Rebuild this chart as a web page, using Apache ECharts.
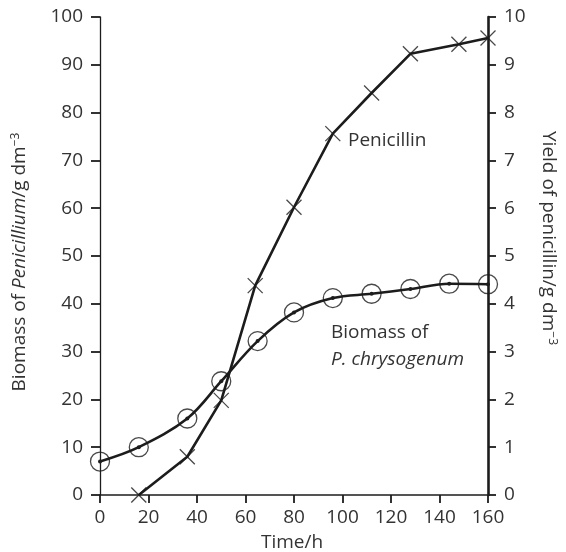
<!DOCTYPE html>
<html>
<head>
<meta charset="utf-8">
<script src="https://cdn.jsdelivr.net/npm/echarts@6/dist/echarts.min.js"></script>
<style>
  html, body { margin: 0; padding: 0; background: #fff; }
  #chart { width: 566px; height: 552px; }
</style>
</head>
<body>
<div id="chart"></div>
<script>
// biomass of P. chrysogenum (left axis, g dm-3)
const biomassTime = [0, 16, 36, 50, 65, 80, 96, 112, 128, 144, 160]
const biomassValue = [7, 10, 16, 23.8, 32.2, 38.2, 41.2, 42.1, 43.1, 44.2, 44.1]

// penicillin yield (right axis, g dm-3)
const penTime = [16, 36, 50, 64, 80, 96, 112, 128, 148, 160]
const penYield = [0, 0.8, 1.98, 4.38, 6.02, 7.56, 8.41, 9.23, 9.43, 9.56]

const timeTicks = [0, 20, 40, 60, 80, 100, 120, 140, 160]

const ink = '#1c1c1c'
const txt = '#333'
const font = 'Open Sans'

const chart = echarts.init(document.getElementById('chart'))

const biomassData = biomassTime.map((t, i) => [t, biomassValue[i]])
const penData = penTime.map((t, i) => [t, penYield[i]])

const sup = { fontSize: 12, fontFamily: font, color: txt, padding: [0, 0, 9, 0] }
const norm = { fontSize: 19, fontFamily: font, color: txt }

const option = {
  animation: false,
  grid: { left: 100, right: 78, top: 17, bottom: 57 },
  xAxis: {
    type: 'value',
    min: timeTicks[0],
    max: timeTicks[timeTicks.length - 1],
    interval: 20,
    splitLine: { show: false },
    axisLine: { onZero: false, lineStyle: { color: ink, width: 1.5 } },
    axisTick: { length: 8, lineStyle: { color: ink, width: 1.8 } },
    axisLabel: { margin: 13, fontSize: 19, fontFamily: font, color: txt }
  },
  yAxis: [
    {
      type: 'value',
      min: 0, max: 100, interval: 10,
      splitLine: { show: false },
      axisLine: { show: true, lineStyle: { color: ink, width: 1.3 } },
      axisTick: { show: true, length: 9, lineStyle: { color: ink, width: 1.8 } },
      axisLabel: { margin: 17, fontSize: 19, fontFamily: font, color: txt }
    },
    {
      type: 'value',
      min: 0, max: 10, interval: 1,
      position: 'right',
      splitLine: { show: false },
      axisLine: { show: true, lineStyle: { color: ink, width: 2.6 } },
      axisTick: { show: true, length: 8, lineStyle: { color: ink, width: 1.8 } },
      axisLabel: { margin: 16, fontSize: 19, fontFamily: font, color: txt }
    }
  ],
  graphic: [
    {
      type: 'text', x: 20, y: 262, rotation: Math.PI / 2,
      style: {
        text: 'Biomass of {i|Penicillium}/g dm{s|−3}',
        align: 'center', verticalAlign: 'middle',
        fontSize: 19, fontFamily: font, fill: txt,
        rich: { i: Object.assign({}, norm, { fontStyle: 'italic' }), s: sup }
      }
    },
    {
      type: 'text', x: 548, y: 238, rotation: -Math.PI / 2,
      style: {
        text: 'Yield of penicillin/g dm{s|−3}',
        align: 'center', verticalAlign: 'middle',
        fontSize: 19, fontFamily: font, fill: txt,
        rich: { s: sup }
      }
    },
    {
      type: 'text', x: 292, y: 543,
      style: { text: 'Time/h', align: 'center', verticalAlign: 'middle', fontSize: 19, fontFamily: font, fill: txt }
    },
    {
      type: 'text', x: 348, y: 141,
      style: { text: 'Penicillin', align: 'left', verticalAlign: 'middle', fontSize: 19, fontFamily: font, fill: txt }
    },
    {
      type: 'text', x: 331, y: 333,
      style: { text: 'Biomass of', align: 'left', verticalAlign: 'middle', fontSize: 19, fontFamily: font, fill: txt }
    },
    {
      type: 'text', x: 331, y: 360,
      style: { text: 'P. chrysogenum', align: 'left', verticalAlign: 'middle', fontSize: 19, fontStyle: 'italic', fontFamily: font, fill: txt }
    }
  ],
  series: [
    {
      // smooth biomass curve with centre dots
      type: 'line',
      data: biomassData,
      smooth: 0.35,
      clip: false,
      symbol: 'circle',
      symbolSize: 4,
      itemStyle: { color: ink },
      lineStyle: { color: ink, width: 2.6 }
    },
    {
      // open rings round biomass points
      type: 'scatter',
      data: biomassData,
      clip: false,
      symbol: 'circle',
      symbolSize: 19,
      itemStyle: { color: 'rgba(0,0,0,0)', borderColor: ink, borderWidth: 1.3 },
      z: 3
    },
    {
      type: 'line',
      yAxisIndex: 1,
      data: penData,
      clip: false,
      showSymbol: false,
      lineStyle: { color: ink, width: 2.6 }
    },
    {
      // crosses on penicillin points
      type: 'scatter',
      yAxisIndex: 1,
      data: penData,
      clip: false,
      symbol: 'path://M0,0L10,10M10,0L0,10',
      symbolSize: 15,
      itemStyle: { color: 'none', borderColor: ink, borderWidth: 1.3 },
      z: 3
    }
  ]
}

chart.setOption(option)
</script>
</body>
</html>
